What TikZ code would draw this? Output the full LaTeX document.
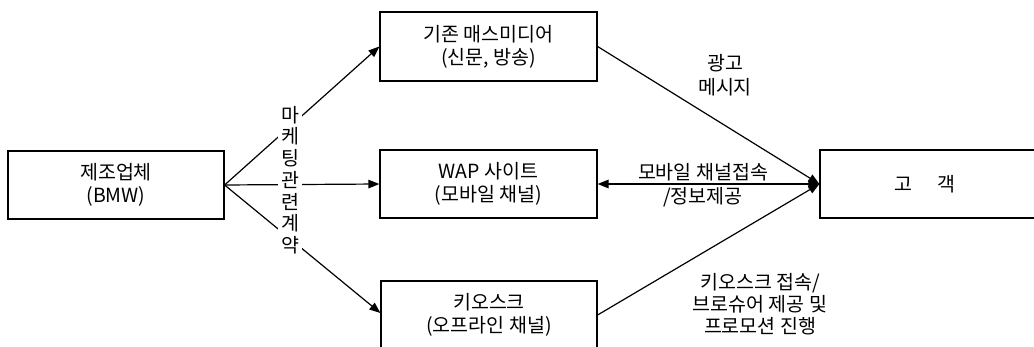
\documentclass[tikz,border=0pt]{standalone}
\usepackage{fontspec}
\setmainfont{Noto Sans CJK KR}
\usetikzlibrary{arrows.meta}
\begin{document}
\begin{tikzpicture}[x=1pt,y=-1pt,
  box/.style={draw, line width=1.2pt, minimum width=216pt, minimum height=68pt, align=center, inner sep=0pt, font=\fontsize{19.5}{23}\selectfont},
  lbl/.style={align=center, inner sep=0pt, font=\fontsize{19.5}{23}\selectfont},
  conn/.style={line width=1.2pt},
  tip/.style={-{Triangle[length=11pt,width=8.5pt]}},
  tips/.style={{Triangle[length=11pt,width=8.5pt]}-{Triangle[length=11pt,width=8.5pt]}}]
\useasboundingbox (0,0) rectangle (1034,347);
\node[box] (maker) at (116,185) {제조업체\\(BMW)};
\node[box, minimum width=217pt, minimum height=69pt] (mass) at (488.5,46.5) {기존 매스미디어\\(신문, 방송)};
\node[box, minimum width=217pt] (wap) at (488.5,184) {WAP 사이트\\(모바일 채널)};
\node[box] (kiosk) at (489,315) {키오스크\\(오프라인 채널)};
\node[box, minimum width=220pt] (cust) at (930,184) {\hspace*{-10pt}고\hspace{1.3em}객};

\draw[conn,tip] (maker.east) -- (mass.west);
\draw[conn,tip] (maker.east) -- (wap.west);
\draw[conn,tip] (maker.east) -- ([yshift=2pt]kiosk.west);

\node[lbl, fill=white, inner xsep=3pt, font=\fontsize{19.5}{21.7}\selectfont] (mkt) at (290,180) {마\\케\\팅\\관\\련\\계\\약};

\draw[conn,tip] (mass.east) -- (cust.west);
\draw[conn,tips] (wap.east) -- (cust.west);
\draw[conn,tip] (kiosk.east) -- (cust.west);

\node[lbl, font=\fontsize{19.5}{24}\selectfont] (ad) at (725,75) {광고\\메시지};
\node[lbl, font=\fontsize{19.5}{24}\selectfont] (mob) at (703,185) {모바일 채널접속\\/정보제공};
\node[lbl, font=\fontsize{19.5}{22}\selectfont] (kio) at (760,304) {키오스크 접속/\\브로슈어 제공 및\\프로모션 진행};
\end{tikzpicture}
\end{document}
